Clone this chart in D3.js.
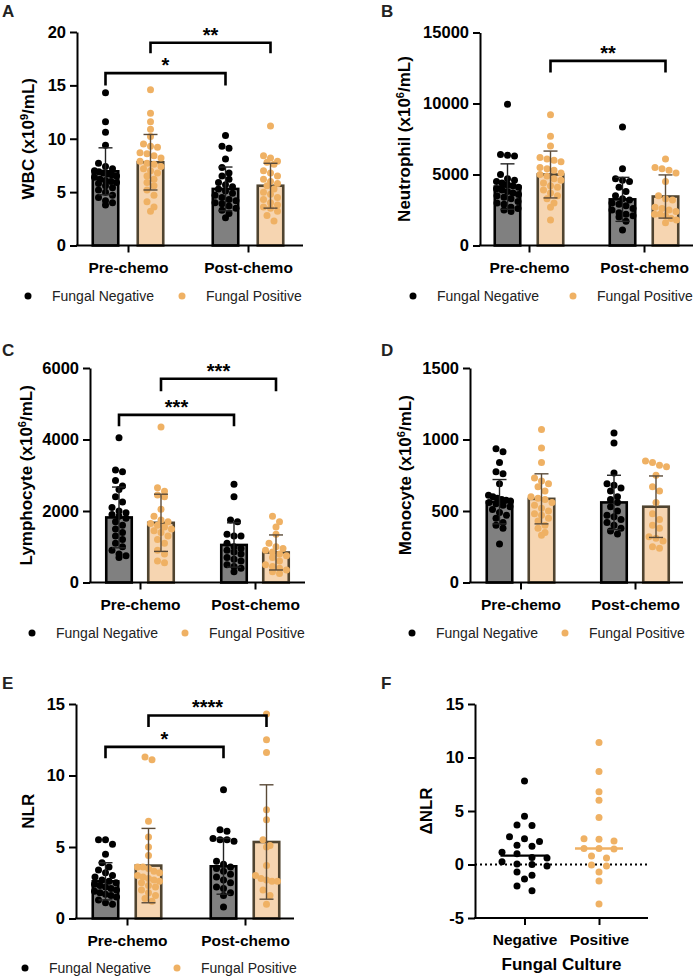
<!DOCTYPE html>
<html>
<head>
<meta charset="utf-8">
<script src="https://cdn.jsdelivr.net/npm/d3@7"></script>
<style>
body { margin: 0; background: #fff; }
text { font-family: "Liberation Sans", Arial, sans-serif; }
</style>
</head>
<body>
<div id="chart"></div>
<script>
// categories
const groups = ["Pre-chemo", "Post-chemo"];
const series = ["Fungal Negative", "Fungal Positive"];

// dots per bar, order: pre-neg, pre-pos, post-neg, post-pos
const wbcDots = [
  [14.3, 11.6, 10.6, 9.4, 7.7, 7.4, 7.2, 7.0, 6.9, 6.8, 6.7, 6.6, 6.5, 6.4, 6.2, 6.1, 6.0, 5.9, 5.8, 5.6, 5.4, 5.2, 5.0, 4.7, 4.5, 4.2, 4.0, 3.8],
  [14.6, 12.4, 11.6, 10.9, 10.2, 9.5, 9.3, 9.2, 8.7, 8.6, 8.4, 8.2, 7.9, 7.7, 7.6, 7.4, 7.2, 7.0, 6.8, 6.5, 6.2, 5.9, 5.6, 5.2, 4.7, 4.1, 3.6, 3.2],
  [10.3, 9.3, 9.1, 8.1, 7.3, 6.8, 6.5, 6.2, 5.9, 5.7, 5.5, 5.3, 5.1, 4.9, 4.7, 4.5, 4.3, 4.2, 4.0, 3.9, 3.7, 3.5, 3.3, 3.0, 2.6],
  [11.2, 8.4, 8.2, 7.9, 7.8, 7.6, 7.0, 6.8, 6.5, 6.2, 6.0, 5.8, 5.6, 5.3, 5.0, 4.8, 4.5, 4.3, 4.0, 3.8, 3.6, 3.5, 3.2, 2.8, 2.3]
];
const wbcMean = [6.95, 7.8, 5.3, 5.6];
const wbcSd = [2.2, 2.6, 2.05, 2.1];
const wbcTicks = [0, 5, 10, 15, 20];

const neuDots = [
  [9950, 6400, 6350, 6300, 5000, 4700, 4600, 4500, 4400, 4300, 4200, 4100, 4000, 3900, 3800, 3700, 3600, 3500, 3400, 3300, 3100, 3000, 2900, 2700, 2600, 2500, 2400],
  [9200, 7700, 7000, 6200, 6100, 6000, 5900, 5500, 5400, 5300, 5100, 5000, 4900, 4700, 4600, 4400, 4200, 4100, 3900, 3700, 3500, 3300, 3000, 2700, 1800],
  [8350, 5400, 4700, 4600, 4500, 4100, 3800, 3500, 3300, 3200, 3000, 2900, 2800, 2600, 2500, 2300, 2200, 2100, 2000, 1700, 1100],
  [6100, 5500, 5400, 5300, 5100, 4500, 3500, 3300, 3200, 2700, 2600, 2500, 2400, 2200, 2200, 2100, 1900, 1800, 1600]
];
const neuMean = [4150, 5000, 3250, 3450];
const neuSd = [1600, 1650, 1550, 1520];
const neuTicks = [0, 5000, 10000, 15000];

const lymDots = [
  [4050, 3150, 3100, 2850, 2700, 2600, 2400, 2250, 2100, 2000, 1950, 1900, 1850, 1800, 1700, 1600, 1500, 1400, 1300, 1200, 1100, 1000, 900, 800, 750, 700],
  [4350, 2650, 2550, 2450, 2400, 2050, 1850, 1750, 1700, 1650, 1600, 1550, 1500, 1450, 1400, 1300, 1200, 1100, 900, 800, 600, 550],
  [2750, 2400, 1750, 1700, 1350, 1300, 1300, 1100, 1000, 950, 900, 850, 800, 700, 650, 600, 500, 450, 400, 300],
  [1850, 1700, 1550, 1350, 1100, 1000, 950, 900, 850, 800, 750, 700, 600, 500, 450, 400, 350, 300, 250]
];
const lymMean = [1820, 1670, 1050, 840];
const lymSd = [850, 800, 620, 490];
const lymTicks = [0, 2000, 4000, 6000];

const monDots = [
  [935, 915, 840, 775, 760, 690, 610, 600, 590, 580, 575, 570, 560, 550, 540, 530, 510, 490, 470, 450, 420, 400, 380, 270],
  [1070, 940, 840, 730, 710, 690, 670, 640, 600, 590, 580, 560, 540, 520, 500, 480, 470, 450, 430, 400, 380, 350, 330],
  [1045, 975, 765, 690, 680, 660, 640, 600, 580, 560, 530, 500, 470, 460, 440, 420, 400, 380, 360, 340],
  [850, 840, 820, 810, 750, 670, 640, 560, 480, 440, 400, 380, 320, 310, 290, 250, 240]
];
const monMean = [565, 585, 560, 530];
const monSd = [155, 175, 190, 215];
const monTicks = [0, 500, 1000, 1500];

const nlrDots = [
  [5.5, 5.5, 5.2, 4.5, 3.9, 3.6, 3.4, 3.2, 3.0, 2.9, 2.7, 2.6, 2.5, 2.4, 2.3, 2.2, 2.1, 2.0, 1.9, 1.8, 1.7, 1.6, 1.5, 1.3, 1.1, 1.0],
  [11.3, 11.1, 6.8, 5.7, 5.0, 4.4, 3.6, 3.6, 3.5, 3.3, 3.2, 3.0, 2.9, 2.8, 2.7, 2.6, 2.5, 2.3, 2.2, 2.0, 1.8, 1.6, 1.4, 1.2],
  [9.0, 6.2, 6.1, 5.6, 5.5, 5.5, 5.4, 4.0, 3.8, 3.6, 3.5, 3.3, 3.1, 2.9, 2.7, 2.5, 2.2, 2.1, 1.8, 1.6, 0.8],
  [14.3, 12.5, 11.6, 7.6, 6.9, 5.5, 5.1, 5.0, 3.7, 3.0, 2.8, 2.7, 2.6, 2.6, 2.0, 1.6, 1.0]
];
const nlrMean = [2.6, 3.7, 3.65, 5.35];
const nlrSd = [1.3, 2.6, 1.95, 4.0];
const nlrTicks = [0, 5, 10, 15];

// delta NLR scatter
const cultureGroups = ["Negative", "Positive"];
const dNlrNeg = [7.8, 4.5, 3.7, 3.65, 2.6, 2.4, 2.15, 1.8, 1.7, 1.15, 1.0, 0.65, 0.6, 0.25, 0.05, 0, -0.15, -0.7, -1.0, -1.35, -2.0, -2.45];
const dNlrPos = [11.4, 8.7, 6.8, 6.0, 4.4, 2.4, 2.35, 2.2, 1.5, 1.5, 1.45, 0.8, 0.6, -0.05, -0.15, -0.7, -1.55, -3.7];
const dNlrTicks = [-5, 0, 5, 10, 15];

// significance brackets: [group, series] to [group, series]
const wbcSig = [
  { from: [0, 0], to: [1, 0], y: 16.15, leg: 15.0, label: "*" },
  { from: [0, 1], to: [1, 1], y: 19.0, leg: 18.0, label: "**" }
];
const neuSig = [{ from: [0, 1], to: [1, 1], y: 13000, leg: 12180, label: "**" }];
const lymSig = [
  { from: [0, 0], to: [1, 0], y: 4690, leg: 4370, label: "***" },
  { from: [0, 1], to: [1, 1], y: 5700, leg: 5350, label: "***" }
];
const nlrSig = [
  { from: [0, 0], to: [1, 0], y: 12.0, leg: 11.2, label: "*" },
  { from: [0, 1], to: [1, 1], y: 14.2, leg: 13.4, label: "****" }
];

const fillCol = ["#808080", "#f6d5b1"];
const edgeCol = ["#000000", "#504430"];
const dotCol = ["#000000", "#efb164"];
const errCol = ["#222222", "#5a4a38"];
const r = 3.5;

const width = 695, height = 978;
const svg = d3.select("#chart").append("svg")
  .attr("width", width)
  .attr("height", height)
  .attr("viewBox", [0, 0, width, height]);

// row-binned column scatter, roughly like Prism does it
function scatterRows(values, y, cx, spacing, maxW) {
  const sorted = values.slice().sort((a, b) => b - a);
  const rows = [];
  sorted.forEach(v => {
    const py = y(v);
    const last = rows[rows.length - 1];
    if (last && py - last.y0 < 2 * r * 0.9) last.pts.push({ v, y: py });
    else rows.push({ y0: py, pts: [{ v, y: py }] });
  });
  const out = [];
  rows.forEach(row => {
    const n = row.pts.length;
    const sp = n > 1 ? Math.min(spacing, 2 * maxW / (n - 1)) : 0;
    row.pts.forEach((p, i) => out.push({ x: cx + (i - (n - 1) / 2) * sp, y: p.y }));
  });
  return out;
}

function yAxis(g, cfg, y) {
  g.append("g")
    .attr("transform", `translate(${cfg.x0},0)`)
    .call(d3.axisLeft(y).tickValues(cfg.ticks).tickSize(7).tickSizeOuter(0).tickPadding(4).tickFormat(d => String(d)))
    .call(a => a.selectAll("path, line").attr("stroke", "#000").attr("stroke-width", 2))
    .call(a => a.selectAll("text").attr("font-size", 16.5).attr("font-weight", "bold").attr("fill", "#000"));

  const t = g.append("text")
    .attr("transform", `translate(${cfg.titleX},${(cfg.yTop + cfg.yBot) / 2}) rotate(-90)`)
    .attr("text-anchor", "middle")
    .attr("dy", "0.35em")
    .attr("font-size", 17)
    .attr("font-weight", "bold");
  t.append("tspan").text(cfg.title[0]);
  if (cfg.title[1]) {
    t.append("tspan").attr("dy", -6).attr("font-size", 11).text(cfg.title[1]);
    t.append("tspan").attr("dy", 6).text(cfg.title[2]);
  }
}

function xAxis(g, cfg, x, yPos) {
  g.append("g")
    .attr("transform", `translate(0,${yPos})`)
    .call(d3.axisBottom(x).tickSize(7).tickPadding(9))
    .call(a => a.select(".domain").remove())
    .call(a => a.selectAll("line").attr("stroke", "#000").attr("stroke-width", 2))
    .call(a => a.selectAll("text").attr("font-size", 15.5).attr("font-weight", "bold").attr("fill", "#000"));
  g.append("line")
    .attr("x1", cfg.x0 - 1).attr("x2", cfg.x1)
    .attr("y1", yPos).attr("y2", yPos)
    .attr("stroke", "#000").attr("stroke-width", 2);
}

function letter(cfg) {
  svg.append("text")
    .attr("x", cfg.lx).attr("y", cfg.ly)
    .attr("font-size", 17).attr("font-weight", "bold").attr("fill", "#222")
    .text(cfg.letter);
}

function legend(cfg) {
  const lg = svg.append("g");
  series.forEach((s, i) => {
    const dx = cfg.legX + i * cfg.legStep;
    lg.append("circle").attr("cx", dx).attr("cy", cfg.legY).attr("r", r).attr("fill", dotCol[i]);
    lg.append("text").attr("x", dx + 24).attr("y", cfg.legY + 5)
      .attr("font-size", 14).attr("fill", "#222").text(s);
  });
}

function barPanel(cfg) {
  const g = svg.append("g");
  const y = d3.scaleLinear().domain(cfg.domain).range([cfg.yBot, cfg.yTop]);
  const x = d3.scalePoint().domain(groups).range(cfg.groupRange);
  const xs = d3.scalePoint().domain([0, 1]).range([-cfg.sep, cfg.sep]);
  const bw = 25.5;

  const cells = [];
  groups.forEach((gr, gi) => series.forEach((s, si) => {
    const k = gi * 2 + si;
    cells.push({ gi, si, cx: x(gr) + xs(si), mean: cfg.mean[k], sd: cfg.sd[k], dots: cfg.dots[k] });
  }));

  // bars
  g.selectAll("rect.bar").data(cells).join("rect")
    .attr("class", "bar")
    .attr("x", d => d.cx - bw / 2)
    .attr("y", d => y(d.mean))
    .attr("width", bw)
    .attr("height", d => y(0) - y(d.mean))
    .attr("fill", d => fillCol[d.si])
    .attr("stroke", d => edgeCol[d.si])
    .attr("stroke-width", 2.6);

  // dots
  cells.forEach(c => {
    const pts = scatterRows(c.dots, y, c.cx, 7, 11);
    g.append("g").selectAll("circle").data(pts).join("circle")
      .attr("cx", d => d.x).attr("cy", d => d.y).attr("r", r)
      .attr("fill", dotCol[c.si]);
  });

  // error bars (mean +/- SD)
  const eb = g.append("g").selectAll("g").data(cells).join("g")
    .attr("stroke", d => errCol[d.si]).attr("stroke-width", 1.4);
  eb.append("line")
    .attr("x1", d => d.cx).attr("x2", d => d.cx)
    .attr("y1", d => y(d.mean - d.sd)).attr("y2", d => y(d.mean + d.sd));
  [-1, 1].forEach(sign => {
    eb.append("line")
      .attr("x1", d => d.cx - 7).attr("x2", d => d.cx + 7)
      .attr("y1", d => y(d.mean + sign * d.sd)).attr("y2", d => y(d.mean + sign * d.sd));
  });

  // significance brackets
  (cfg.sig || []).forEach(b => {
    const xa = x(groups[b.from[0]]) + xs(b.from[1]);
    const xb = x(groups[b.to[0]]) + xs(b.to[1]);
    const path = d3.path();
    path.moveTo(xa, y(b.leg)); path.lineTo(xa, y(b.y)); path.lineTo(xb, y(b.y)); path.lineTo(xb, y(b.leg));
    g.append("path").attr("d", path.toString())
      .attr("fill", "none").attr("stroke", "#000").attr("stroke-width", 2.6);
    g.append("text")
      .attr("x", (xa + xb) / 2).attr("y", y(b.y) - 1)
      .attr("text-anchor", "middle").attr("font-size", 20).attr("font-weight", "bold")
      .text(b.label);
  });

  yAxis(g, cfg, y);
  xAxis(g, cfg, x, cfg.yBot);
  letter(cfg);
  legend(cfg);
}

function scatterPanel(cfg) {
  const g = svg.append("g");
  const y = d3.scaleLinear().domain(cfg.domain).range([cfg.yBot, cfg.yTop]);
  const x = d3.scalePoint().domain(cultureGroups).range(cfg.groupRange);

  // dotted zero line
  g.append("line")
    .attr("x1", cfg.x0).attr("x2", cfg.x1)
    .attr("y1", y(0)).attr("y2", y(0))
    .attr("stroke", "#000").attr("stroke-width", 2).attr("stroke-dasharray", "2,3");

  [dNlrNeg, dNlrPos].forEach((vals, i) => {
    const cx = x(cultureGroups[i]);
    const pts = scatterRows(vals, y, cx, 15, 23);
    g.append("g").selectAll("circle").data(pts).join("circle")
      .attr("cx", d => d.x).attr("cy", d => d.y).attr("r", r)
      .attr("fill", dotCol[i]);
    const med = d3.median(vals);
    g.append("line")
      .attr("x1", cx - 24).attr("x2", cx + 24)
      .attr("y1", y(med)).attr("y2", y(med))
      .attr("stroke", i ? dotCol[1] : "#000").attr("stroke-width", 2.4);
  });

  yAxis(g, cfg, y);
  xAxis(g, cfg, x, cfg.yBot);
  g.append("text")
    .attr("x", (cfg.x0 + cfg.x1) / 2).attr("y", 970)
    .attr("text-anchor", "middle").attr("font-size", 17).attr("font-weight", "bold")
    .text("Fungal Culture");
  letter(cfg);
}

barPanel({
  letter: "A", lx: 2, ly: 17, x0: 77, x1: 303, yTop: 32, yBot: 245.5,
  domain: [0, 20], ticks: wbcTicks, groupRange: [128, 248], sep: 22.5,
  title: ["WBC (x10", "9", "/mL)"], titleX: 28.5,
  mean: wbcMean, sd: wbcSd, dots: wbcDots, sig: wbcSig,
  legX: 28, legStep: 154, legY: 296
});
barPanel({
  letter: "B", lx: 381, ly: 17, x0: 480, x1: 693, yTop: 32.5, yBot: 245.5,
  domain: [0, 15000], ticks: neuTicks, groupRange: [529, 644], sep: 21.5,
  title: ["Neutrophil (x10", "6", "/mL)"], titleX: 404,
  mean: neuMean, sd: neuSd, dots: neuDots, sig: neuSig,
  legX: 413, legStep: 160, legY: 296
});
barPanel({
  letter: "C", lx: 2, ly: 356, x0: 90, x1: 305, yTop: 368, yBot: 582.5,
  domain: [0, 6000], ticks: lymTicks, groupRange: [140, 255], sep: 21,
  title: ["Lymphocyte (x10", "6", "/mL)"], titleX: 26,
  mean: lymMean, sd: lymSd, dots: lymDots, sig: lymSig,
  legX: 32, legStep: 153, legY: 633
});
barPanel({
  letter: "D", lx: 381, ly: 356, x0: 470, x1: 683, yTop: 368, yBot: 582.5,
  domain: [0, 1500], ticks: monTicks, groupRange: [520.5, 635], sep: 21,
  title: ["Monocyte (x10", "6", "/mL)"], titleX: 405,
  mean: monMean, sd: monSd, dots: monDots, sig: [],
  legX: 412, legStep: 153, legY: 633
});
barPanel({
  letter: "E", lx: 2, ly: 689, x0: 76, x1: 294, yTop: 704, yBot: 918.5,
  domain: [0, 15], ticks: nlrTicks, groupRange: [127, 245], sep: 21.5,
  title: ["NLR"], titleX: 28.5,
  mean: nlrMean, sd: nlrSd, dots: nlrDots, sig: nlrSig,
  legX: 25, legStep: 152, legY: 968
});
scatterPanel({
  letter: "F", lx: 381, ly: 689, x0: 475, x1: 648, yTop: 704, yBot: 918,
  domain: [-5, 15], ticks: dNlrTicks, groupRange: [524.5, 599],
  title: ["\u0394NLR"], titleX: 426
});
</script>
</body>
</html>
